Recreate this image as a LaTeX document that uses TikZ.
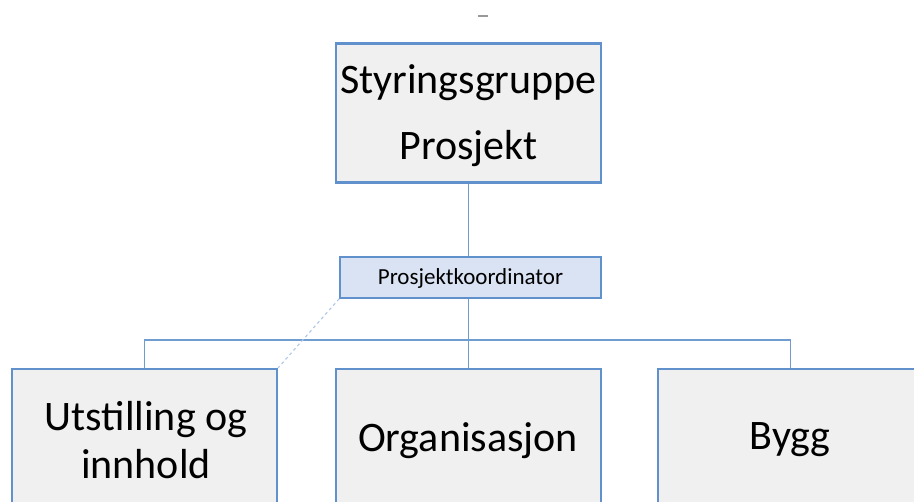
\documentclass[tikz,border=0pt]{standalone}
\usepackage{fontspec}
\setmainfont{Carlito}
\definecolor{boxborder}{RGB}{96,145,204}
\definecolor{boxfill}{RGB}{240,240,240}
\definecolor{coordfill}{RGB}{218,227,243}
\definecolor{linkcol}{RGB}{112,157,208}
\definecolor{dashcol}{RGB}{175,198,232}
\begin{document}
\begin{tikzpicture}[x=1pt,y=-1pt,
  orgbox/.style={draw=boxborder,fill=boxfill,line width=2.2pt,inner sep=0pt,
    minimum width=265pt},
  coordbox/.style={draw=boxborder,fill=coordfill,line width=1.6pt,inner sep=0pt,
    minimum width=261pt,minimum height=41pt},
  bigtext/.style={font=\fontsize{42}{48}\selectfont,align=center,inner sep=0pt},
  link/.style={draw=linkcol,line width=1.3pt}]
\useasboundingbox (0,0) rectangle (914,502);
\clip (0,0) rectangle (914,502);
\fill[white] (0,0) rectangle (914,502);
% small grey mark at top
\node[fill=gray!80,minimum width=10pt,minimum height=1.6pt,inner sep=0pt] (mark) at (483,16) {};
% boxes
\node[orgbox,minimum height=139pt] (top) at (468.5,113) {};
\node[coordbox] (coord) at (470.5,277.5) {};
\node[orgbox,minimum height=180pt] (lb) at (144.5,459) {};
\node[orgbox,minimum height=180pt] (mb) at (468.5,459) {};
\node[orgbox,minimum height=180pt] (rb) at (790.5,459) {};
% texts
\node[font=\fontsize{42}{66}\selectfont,align=center,inner sep=0pt] (toptext) at (468.5,116) {Styringsgruppe\\Prosjekt};
\node[font=\fontsize{23}{28}\selectfont,inner sep=0pt,anchor=base] (coordtext) at (470.5,285) {Prosjektkoordinator};
\node[bigtext] (lbtext) at (146,440) {Utstilling og\\innhold};
\node[bigtext,anchor=base] (mbtext) at (468,452) {Organisasjon};
\node[bigtext,anchor=base] (rbtext) at (790,450) {Bygg};
% connectors
\draw[link] (top.south) -- (top.south |- coord.north);
\draw[link] (top.south |- coord.south) -- (mb.north);
\draw[link] (lb.north) -- ++(0,-28) -| (rb.north);
\draw[draw=dashcol,line width=1.1pt,dashed] (coord.south west) -- (lb.north east);
\end{tikzpicture}
\end{document}
